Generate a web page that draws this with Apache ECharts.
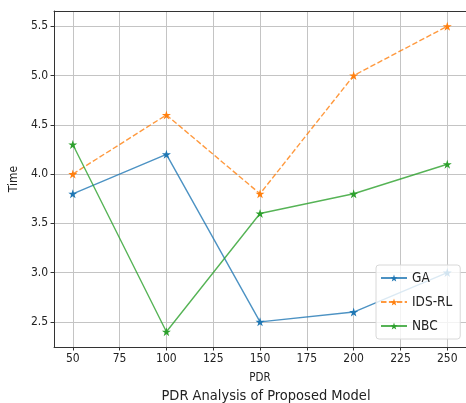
<!DOCTYPE html>
<html>
<head>
<meta charset="utf-8">
<script src="https://cdn.jsdelivr.net/npm/echarts@6/dist/echarts.min.js"></script>
<style>html,body{margin:0;padding:0;background:#fff}#c{width:466px;height:403px}</style>
</head>
<body>
<div id="c"></div>
<script>
const categories = [50, 100, 150, 200, 250];
const gaValues = [3.8, 4.2, 2.5, 2.6, 3.0];
const idsrlValues = [4.0, 4.6, 3.8, 5.0, 5.5];
const nbcValues = [4.3, 2.4, 3.6, 3.8, 4.1];
const xTicks = [50, 75, 100, 125, 150, 175, 200, 225, 250];
const yTicks = [2.5, 3.0, 3.5, 4.0, 4.5, 5.0, 5.5];

const star = 'path://M50,0 L61.2,34.5 L97.6,34.5 L68.2,55.9 L79.4,90.5 L50,69.1 L20.6,90.5 L31.8,55.9 L2.4,34.5 L38.8,34.5 Z';
const FONT = '"DejaVu Sans Condensed", "DejaVu Sans", sans-serif';

function pairs(vals) { return categories.map((c, i) => [c, vals[i]]); }

function mkSeries(name, vals, color, dashed) {
  return {
    name: name, type: 'line', data: pairs(vals),
    symbol: star, symbolSize: 9, showSymbol: true,
    itemStyle: { color: color },
    lineStyle: { color: color, width: 1.4, opacity: 0.8, type: dashed ? [5.5, 2.4] : 'solid' },
    emphasis: { disabled: true }, animation: false, z: 2
  };
}

const chart = echarts.init(document.getElementById('c'), null, { renderer: 'canvas' });
chart.setOption({
  animation: false,
  backgroundColor: '#fff',
  textStyle: { fontFamily: FONT },
  grid: { left: 54, top: 11, width: 415, height: 336, containLabel: false },
  title: {
    text: 'PDR Analysis of Proposed Model',
    left: 261, top: 384, textAlign: 'center',
    textStyle: { fontFamily: FONT, fontSize: 14.5, fontWeight: 'normal', color: '#222' }
  },
  legend: {
    data: ['GA', 'IDS-RL', 'NBC'],
    orient: 'vertical',
    left: 376, top: 265, z: 10,
    width: 87,
    itemWidth: 26, itemHeight: 9, itemGap: 10,
    padding: [6, 8, 6, 4],
    backgroundColor: 'rgba(255,255,255,0.8)',
    borderColor: '#d8d8d8', borderWidth: 1, borderRadius: 3,
    textStyle: { fontFamily: FONT, fontSize: 13.5, color: '#222' }
  },
  xAxis: [{
    type: 'value', min: 40, max: 260,
    name: 'PDR', nameLocation: 'middle', nameGap: 25,
    nameTextStyle: { fontFamily: FONT, fontSize: 11.5, color: '#222' },
    axisLine: { show: true, lineStyle: { color: '#333', width: 1 } },
    axisTick: { show: true, length: 3.5, customValues: xTicks, lineStyle: { color: '#333' } },
    axisLabel: { customValues: xTicks, fontFamily: FONT, fontSize: 12, color: '#222', margin: 6 },
    splitLine: { show: true, lineStyle: { color: '#c4c4c4', width: 1 } }
  }, {
    type: 'value', position: 'top', min: 40, max: 260,
    axisLine: { show: true, onZero: false, lineStyle: { color: '#333', width: 1 } },
    axisTick: { show: false }, axisLabel: { show: false }, splitLine: { show: false }
  }],
  yAxis: {
    type: 'value', min: 2.245, max: 5.655,
    name: 'Time', nameLocation: 'middle', nameGap: 30, nameRotate: 90,
    nameTextStyle: { fontFamily: FONT, fontSize: 12, color: '#222' },
    axisLine: { show: true, lineStyle: { color: '#333', width: 1 } },
    axisTick: { show: true, length: 3.5, customValues: yTicks, lineStyle: { color: '#333' } },
    axisLabel: { customValues: yTicks, fontFamily: FONT, fontSize: 12, color: '#222', margin: 6,
      formatter: v => v.toFixed(1) },
    splitLine: { show: true, lineStyle: { color: '#c4c4c4', width: 1 } }
  },
  series: [
    mkSeries('GA', gaValues, '#1f77b4', false),
    mkSeries('IDS-RL', idsrlValues, '#ff7f0e', true),
    mkSeries('NBC', nbcValues, '#2ca02c', false)
  ]
});
</script>
</body>
</html>
